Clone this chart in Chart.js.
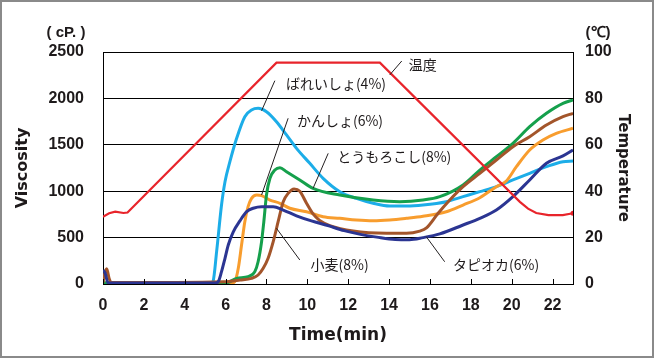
<!DOCTYPE html>
<html>
<head>
<meta charset="utf-8">
<script src="https://cdn.jsdelivr.net/npm/chart.js@4.4.1/dist/chart.umd.min.js"></script>
<style>
  html, body { margin: 0; padding: 0; background: #fff; }
  canvas { display: block; }
</style>
</head>
<body>
<canvas id="c" width="654" height="358"></canvas>
<script>
// ---- Data ----
const xTicks = [0, 2, 4, 6, 8, 10, 12, 14, 16, 18, 20, 22];
const viscTicks = [0, 500, 1000, 1500, 2000, 2500];
const tempTicks = [0, 20, 40, 60, 80, 100];

// 温度 (°C)
const tempTime = [0, 0.3, 0.6, 1.0, 1.2, 8.49, 13.55, 20.4, 20.8, 21.2, 21.8, 22.5, 23];
const tempC    = [29, 30.5, 31.2, 30.6, 30.8, 95.4, 95.4, 35.4, 32.5, 30.6, 29.7, 29.7, 30.5];

// ばれいしょ(4%)
const potatoTime = [0, 5.3, 5.39, 5.56, 5.8, 5.97, 6.21, 6.54, 6.94, 7.27, 7.59, 8.0, 8.49, 8.98, 9.47, 10.12, 10.77, 11.59, 12.4, 13.22, 14.03, 14.85, 15.66, 16.8, 17.62, 18.44, 19.25, 20.06, 20.88, 21.7, 22.51, 23];
const potatoVisc = [10, 10, 30, 348, 851, 1102, 1318, 1570, 1803, 1875, 1893, 1857, 1749, 1606, 1462, 1300, 1139, 995, 923, 870, 840, 840, 851, 887, 941, 995, 1049, 1121, 1193, 1264, 1318, 1325];

// かんしょ(6%)
const sweetTime = [0, 6.3, 6.45, 6.62, 6.78, 6.94, 7.1, 7.27, 7.52, 7.76, 8.17, 8.66, 9.14, 9.96, 10.77, 11.59, 12.4, 13.22, 14.03, 14.85, 15.66, 16.8, 17.62, 18.44, 19.25, 19.74, 20.23, 20.88, 21.53, 22.18, 23];
const sweetVisc = [10, 10, 25, 169, 420, 671, 833, 923, 959, 952, 905, 870, 816, 779, 725, 708, 690, 682, 690, 708, 730, 779, 851, 930, 1049, 1110, 1264, 1444, 1552, 1624, 1678];

// とうもろこし(8%)
const cornTime = [0, 6.0, 6.54, 7.1, 7.43, 7.59, 7.76, 7.87, 8.0, 8.17, 8.41, 8.66, 8.98, 9.63, 10.28, 11.59, 13.22, 14.52, 15.66, 16.48, 17.62, 18.44, 19.25, 20.06, 20.88, 21.7, 22.51, 23];
const cornVisc = [10, 10, 61, 79, 133, 240, 456, 671, 959, 1139, 1228, 1253, 1210, 1121, 1031, 959, 905, 887, 905, 941, 1067, 1228, 1372, 1516, 1695, 1840, 1947, 1983];

// 小麦(8%)
const wheatTime = [0, 0.08, 0.18, 0.3, 0.4, 5.88, 6.7, 7.27, 7.59, 7.84, 8.08, 8.33, 8.57, 8.82, 9.06, 9.35, 9.63, 9.96, 10.28, 10.6, 11.1, 12.24, 13.87, 14.85, 15.5, 15.83, 16.4, 16.97, 17.62, 18.44, 19.25, 20.06, 20.88, 21.7, 22.51, 23];
const wheatVisc = [15, 110, 165, 60, 15, 25, 43, 61, 97, 169, 277, 456, 671, 887, 977, 1025, 1000, 870, 755, 685, 630, 570, 546, 546, 570, 605, 762, 905, 1049, 1193, 1336, 1480, 1587, 1713, 1803, 1839];

// タピオカ(6%)
const tapiocaTime = [0, 0.1, 0.25, 5.5, 5.64, 5.8, 5.97, 6.13, 6.37, 6.7, 7.03, 7.35, 7.76, 8.33, 8.82, 9.47, 10.2, 11.0, 11.8, 12.6, 13.4, 14.3, 15.0, 15.66, 16.48, 17.62, 18.44, 19.25, 20.06, 20.88, 21.7, 22.51, 23];
const tapiocaVisc = [150, 120, 10, 10, 25, 133, 277, 420, 560, 680, 779, 816, 833, 833, 797, 735, 680, 630, 575, 535, 505, 480, 478, 500, 540, 636, 708, 797, 941, 1121, 1301, 1380, 1444];

// Labels (text, anchor time, anchor value in cP, leader line from/to in (time, cP))
const labelTexts = ['温度', 'ばれいしょ(4%)', 'かんしょ(6%)', 'とうもろこし(8%)', '小麦(8%)', 'タピオカ(6%)'];
const labelPos   = [[14.96, 2360], [8.95, 2155], [9.49, 1757], [11.46, 1372], [10.16, 205], [17.13, 205]];
const leaderFrom = [[14.03, 2252], [7.76, 1867], [9.06, 1786], [11.02, 1408], [9.63, 259], [16.72, 240]];
const leaderTo   = [[14.62, 2403], [8.41, 2191], [7.76, 959], [10.28, 1031], [8.49, 600], [15.82, 510]];

// ---- helpers ----
const zip = (t, v) => t.map((x, i) => ({x: x, y: v[i]}));
const TICK_FONT = {family: "'Liberation Sans', Arial, sans-serif", size: 16, weight: 'bold'};
const TITLE_FAMILY = "'DejaVu Sans', sans-serif";
const TEXT_COLOR = '#1e1a1b';

const decor = {
  id: 'decor',
  afterDraw(chart) {
    const ctx = chart.ctx;
    const xs = chart.scales.x, ys = chart.scales.y;
    const area = chart.chartArea;
    ctx.save();
    // inner x tick marks
    ctx.strokeStyle = '#000';
    ctx.lineWidth = 1;
    xTicks.forEach(t => {
      const px = Math.round(xs.getPixelForValue(t)) + 0.5;
      ctx.beginPath();
      ctx.moveTo(px, area.bottom);
      ctx.lineTo(px, area.bottom - 5);
      ctx.stroke();
    });
    // leader lines
    ctx.lineWidth = 1;
    ctx.strokeStyle = '#231f20';
    leaderFrom.forEach((f, i) => {
      const to = leaderTo[i];
      ctx.beginPath();
      ctx.moveTo(xs.getPixelForValue(f[0]), ys.getPixelForValue(f[1]));
      ctx.lineTo(xs.getPixelForValue(to[0]), ys.getPixelForValue(to[1]));
      ctx.stroke();
    });
    // series labels
    ctx.fillStyle = TEXT_COLOR;
    ctx.font = "14px 'Noto Sans CJK JP', sans-serif";
    ctx.textAlign = 'left';
    ctx.textBaseline = 'middle';
    labelTexts.forEach((s, i) => {
      ctx.fillText(s, xs.getPixelForValue(labelPos[i][0]), ys.getPixelForValue(labelPos[i][1]));
    });
    // unit labels
    ctx.font = "bold 15px 'Liberation Sans', Arial, sans-serif";
    ctx.textAlign = 'center';
    ctx.fillText('( cP. )', (area.left - 37), area.top - 19);
    ctx.fillText('(℃)', (area.right + 25), area.top - 19);
    // outer frame
    ctx.strokeStyle = '#8a8a8a';
    ctx.lineWidth = 2;
    ctx.strokeRect(1, 1, chart.width - 2, chart.height - 2);
    ctx.restore();
  }
};

const plainTick = v => String(v);

new Chart(document.getElementById('c'), {
  type: 'line',
  data: {
    datasets: [
      {label: '温度', data: zip(tempTime, tempC), yAxisID: 'y1', borderColor: '#e8242b', borderWidth: 2.2,
       tension: 0, cubicInterpolationMode: 'default',
       pointRadius: ctx => ctx.dataIndex === tempTime.length - 1 ? 2.5 : 0, pointBackgroundColor: '#e8242b', pointBorderWidth: 0},
      {label: 'タピオカ(6%)', data: zip(tapiocaTime, tapiocaVisc), borderColor: '#2b3592', borderWidth: 3},
      {label: '小麦(8%)', data: zip(wheatTime, wheatVisc), borderColor: '#a3552b', borderWidth: 3},
      {label: 'とうもろこし(8%)', data: zip(cornTime, cornVisc), borderColor: '#15a04c', borderWidth: 3},
      {label: 'かんしょ(6%)', data: zip(sweetTime, sweetVisc), borderColor: '#f89d2e', borderWidth: 3},
      {label: 'ばれいしょ(4%)', data: zip(potatoTime, potatoVisc), borderColor: '#1cade8', borderWidth: 3}
    ]
  },
  options: {
    responsive: false,
    animation: false,
    devicePixelRatio: 1,
    layout: {padding: {top: 52, left: 0, right: 0, bottom: 0}},
    elements: {
      point: {radius: 0, hoverRadius: 0},
      line: {cubicInterpolationMode: 'monotone', fill: false}
    },
    plugins: {legend: {display: false}, tooltip: {enabled: false}},
    scales: {
      x: {
        type: 'linear', min: 0, max: 23,
        afterBuildTicks: s => { s.ticks = xTicks.map(v => ({value: v})); },
        ticks: {font: TICK_FONT, color: TEXT_COLOR, padding: 12, maxRotation: 0, callback: plainTick},
        grid: {display: false, drawTicks: false},
        border: {display: true, color: '#000', width: 1},
        title: {display: true, text: 'Time(min)', color: TEXT_COLOR, font: {family: TITLE_FAMILY, size: 17, weight: 'bold'}, padding: {top: 0, bottom: 12}},
        afterFit: s => { s.height = 74; }
      },
      y: {
        type: 'linear', position: 'left', min: 0, max: 2500,
        afterBuildTicks: s => { s.ticks = viscTicks.map(v => ({value: v})); },
        ticks: {font: TICK_FONT, color: TEXT_COLOR, padding: 19, callback: plainTick},
        grid: {color: '#000', lineWidth: 1, drawTicks: false},
        border: {display: true, color: '#000', width: 1},
        title: {display: true, text: 'Viscosity', color: TEXT_COLOR, font: {family: TITLE_FAMILY, size: 16, weight: 'bold'}, padding: {top: 13, bottom: 0}},
        afterFit: s => { s.width = 103; }
      },
      y1: {
        type: 'linear', position: 'right', min: 0, max: 100,
        afterBuildTicks: s => { s.ticks = tempTicks.map(v => ({value: v})); },
        ticks: {font: TICK_FONT, color: TEXT_COLOR, padding: 12, callback: plainTick},
        grid: {display: false, drawOnChartArea: false, drawTicks: false},
        border: {display: true, color: '#000', width: 1},
        title: {display: true, text: 'Temperature', color: TEXT_COLOR, font: {family: TITLE_FAMILY, size: 15, weight: 'bold'}, padding: {top: 22, bottom: 0}},
        afterFit: s => { s.width = 81; }
      }
    }
  },
  plugins: [decor]
});
</script>
</body>
</html>
